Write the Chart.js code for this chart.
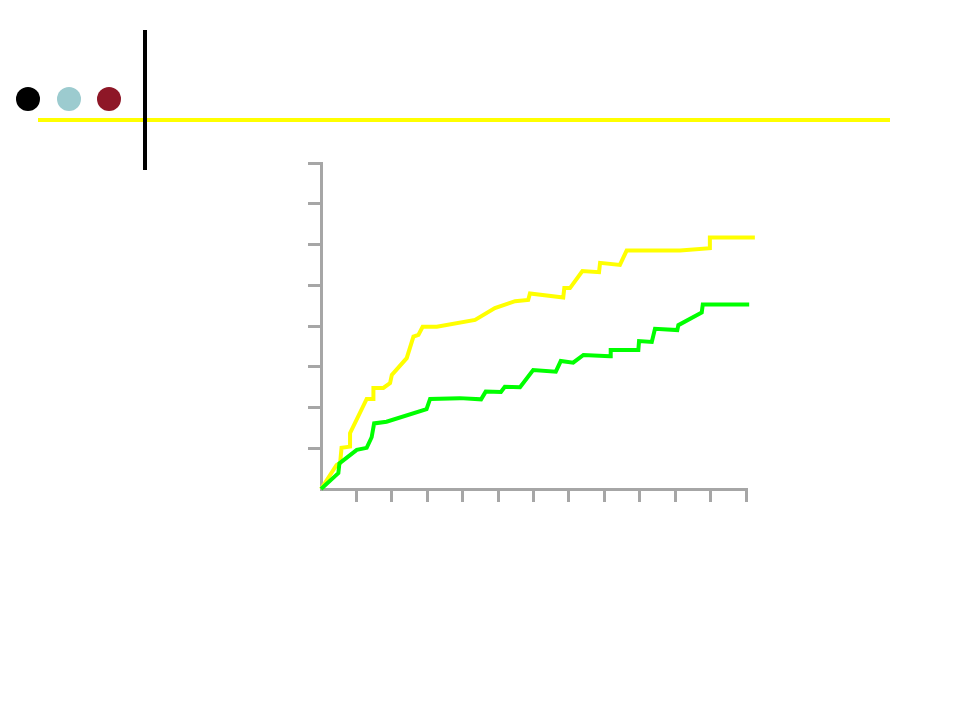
<!DOCTYPE html>
<html>
<head>
<meta charset="utf-8">
<script src="https://cdn.jsdelivr.net/npm/chart.js@4/dist/chart.umd.min.js"></script>
<style>
  html, body { margin: 0; padding: 0; background: #fff; }
  #wrap { position: relative; width: 960px; height: 720px; overflow: hidden; }
  .dot { position: absolute; width: 24px; height: 24px; border-radius: 50%; top: 87px; }
  #vline { position: absolute; left: 143px; top: 30px; width: 4px; height: 140px; background: #000; }
  #hline { position: absolute; left: 38px; top: 118px; width: 852px; height: 4px; background: #ffff00; }
  #myChart { position: absolute; left: 0; top: 0; }
</style>
</head>
<body>
<div id="wrap">
  <div class="dot" style="left:16px;background:#000;"></div>
  <div class="dot" style="left:57px;background:#9ccbcf;"></div>
  <div class="dot" style="left:97px;background:#8e1727;"></div>
  <div id="hline"></div>
  <div id="vline"></div>
  <canvas id="myChart" width="960" height="720"></canvas>
</div>
<script>
// x in axis units (0..12), y in axis units (0..8)
const yellowX = [0, 0.44, 0.54, 0.58, 0.82, 0.82, 1.29, 1.48, 1.48, 1.76, 1.95, 2.00, 2.42, 2.61, 2.75, 2.87, 3.27, 4.35, 4.91, 5.48, 5.85, 5.90, 6.84, 6.87, 7.03, 7.38, 7.85, 7.88, 8.44, 8.63, 10.14, 10.98, 10.98, 12.25];
const yellowY = [0, 0.59, 0.64, 1.01, 1.04, 1.37, 2.21, 2.21, 2.48, 2.48, 2.60, 2.80, 3.21, 3.74, 3.78, 3.98, 3.98, 4.15, 4.44, 4.61, 4.64, 4.80, 4.70, 4.93, 4.93, 5.35, 5.32, 5.55, 5.50, 5.85, 5.85, 5.91, 6.17, 6.17];

const greenX = [0, 0.49, 0.52, 1.01, 1.29, 1.43, 1.50, 1.85, 2.98, 3.08, 3.92, 4.52, 4.65, 5.08, 5.19, 5.62, 5.99, 6.63, 6.77, 7.12, 7.41, 8.16, 8.18, 8.96, 8.98, 9.34, 9.43, 10.06, 10.09, 10.75, 10.78, 12.09];
const greenY = [0, 0.39, 0.63, 0.96, 1.01, 1.27, 1.61, 1.65, 1.96, 2.21, 2.23, 2.20, 2.39, 2.38, 2.51, 2.50, 2.92, 2.88, 3.14, 3.10, 3.29, 3.26, 3.41, 3.41, 3.63, 3.61, 3.93, 3.90, 4.02, 4.33, 4.53, 4.53];

const xMax = 12;
const yMax = 8;

function toPoints(xs, ys) {
    return xs.map((x, i) => ({ x: x, y: ys[i] }));
}

const axisGray = '#a6a6a6';
// no tick mark at the origin
const tickColor = c => (c.tick && c.tick.value === 0) ? 'rgba(0,0,0,0)' : axisGray;

const ctx = document.getElementById('myChart').getContext('2d');
const myChart = new Chart(ctx, {
    type: 'line',
    data: {
        datasets: [{
            label: 'A',
            data: toPoints(yellowX, yellowY),
            borderColor: '#ffff00',
            borderWidth: 4,
            pointRadius: 0,
            tension: 0,
            clip: false,
            order: 1
        }, {
            label: 'B',
            data: toPoints(greenX, greenY),
            borderColor: '#00ff00',
            borderWidth: 4,
            pointRadius: 0,
            tension: 0,
            clip: false,
            order: 0
        }]
    },
    options: {
        responsive: false,
        animation: false,
        layout: {
            padding: { left: 308, top: 163, right: 214, bottom: 218 }
        },
        plugins: {
            legend: { display: false },
            tooltip: { enabled: false }
        },
        scales: {
            x: {
                type: 'linear',
                min: 0,
                max: xMax,
                ticks: { display: false, stepSize: 1 },
                grid: { drawOnChartArea: false, drawTicks: true, tickLength: 13, color: tickColor, lineWidth: 3 },
                border: { color: axisGray, width: 3 }
            },
            y: {
                min: 0,
                max: yMax,
                ticks: { display: false, stepSize: 1 },
                grid: { drawOnChartArea: false, drawTicks: true, tickLength: 13, color: tickColor, lineWidth: 3 },
                border: { color: axisGray, width: 3 }
            }
        }
    }
});
</script>
</body>
</html>
